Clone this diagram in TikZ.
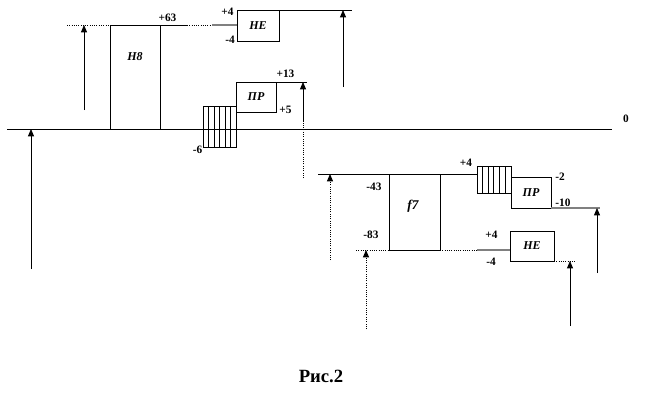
\documentclass[tikz,border=0pt]{standalone}
\usepackage{fontspec}
\setmainfont{Liberation Serif}
\usetikzlibrary{arrows.meta,calc}
\tikzset{
    tol/.style={draw, inner sep=0pt, outer sep=0pt, font=\bfseries\itshape\fontsize{9}{9}\selectfont},
    hat/.style={draw, line width=0.7pt, inner sep=0pt, outer sep=0pt},
    val/.style={inner sep=0pt, font=\bfseries\fontsize{8.5}{9}\selectfont},
    lin/.style={line width=0.6pt},
    dot/.style={line width=0.7pt, densely dotted},
    gry/.style={line width=0.8pt, gray},
    arr/.style={line width=0.6pt, -{Triangle[width=4.5pt,length=5.5pt]}},
    dotarr/.style={line width=0.7pt, densely dotted, -{Triangle[width=4.5pt,length=5.5pt]}}
}
\begin{document}
\begin{tikzpicture}[x=0.75pt, y=-0.75pt]
    \useasboundingbox (0, 0) rectangle (660, 400);
    % zero line
    \coordinate (z1) at (7, 129);
    \coordinate (z2) at (612, 129);
    \draw [lin] (z1) -- (z2);
    \node (zero) at (626, 119) [val] {0};
    % upper part
    \node (h8) at (135, 77) [tol, minimum width=37.5pt, minimum height=78pt] {};
    \node (h8t) at (135, 57) [val, font=\bfseries\itshape\fontsize{9}{9}\selectfont] {Н8};
    \node (he1) at (258, 25.5) [tol, minimum width=31.5pt, minimum height=23.25pt] {НЕ};
    \node (pr1) at (256, 97) [tol, minimum width=30pt, minimum height=22.5pt] {ПР};
    \node (ha1) at (219.5, 126.5) [hat, minimum width=24.75pt, minimum height=30.75pt] {};
    \foreach \i in {1,...,5}
        \draw [lin] ($(ha1.north west)+(\i*5.5,0)$) -- ($(ha1.south west)+(\i*5.5,0)$);
    \coordinate (a1) at (67, 25);
    \coordinate (a1m) at (187, 25);
    \coordinate (a1n) at (212, 25);
    \coordinate (a2) at (352, 10);
    \coordinate (a3) at (307, 82);
    \draw [dot] (a1) -- (h8.north west);
    \draw [lin] (h8.north west) -- (a1m);
    \draw [dot] (a1m) -- (a1n);
    \draw [gry] (a1n) -- (he1.west |- a1n);
    \draw [lin] (he1.north east) -- (a2);
    \draw [lin] (pr1.north east) -- (a3);
    \coordinate (b1) at (84, 110);
    \coordinate (b1e) at (84, 25);
    \coordinate (b2) at (343, 87);
    \coordinate (b2e) at (343, 10);
    \coordinate (b3) at (303, 178);
    \coordinate (b3m) at (303, 122);
    \coordinate (b3e) at (303, 82);
    \coordinate (b4) at (31, 269);
    \coordinate (b4e) at (31, 129);
    \draw [arr] (b1) -- (b1e);
    \draw [arr] (b2) -- (b2e);
    \draw [dot] (b3) -- (b3m);
    \draw [arr] (b3m) -- (b3e);
    \draw [arr] (b4) -- (b4e);
    \node (v1) at (167.5, 17.5) [val] {+63};
    \node (v2) at (227.5, 12) [val] {+4};
    \node (v3) at (230, 40) [val] {-4};
    \node (v4) at (285.5, 74) [val] {+13};
    \node (v5) at (285.5, 110) [val] {+5};
    \node (v6) at (197.5, 150) [val] {-6};
    % lower part
    \node (f7) at (414.5, 212) [tol, minimum width=38.25pt, minimum height=57pt] {};
    \node (f7t) at (413, 206) [val, font=\bfseries\itshape\fontsize{10}{10}\selectfont] {f7};
    \node (pr2) at (531, 192.5) [tol, minimum width=30pt, minimum height=23.25pt] {ПР};
    \node (he2) at (532, 246) [tol, minimum width=33pt, minimum height=22.5pt] {НЕ};
    \node (ha2) at (494, 179.5) [hat, minimum width=25.5pt, minimum height=20.25pt] {};
    \foreach \i in {1,...,5}
        \draw [lin] ($(ha2.north west)+(\i*5.6,0)$) -- ($(ha2.south west)+(\i*5.6,0)$);
    \coordinate (c1) at (318, 174);
    \coordinate (c2) at (356, 250);
    \coordinate (c2m) at (477, 250);
    \coordinate (c3) at (600, 208);
    \coordinate (c4) at (575, 261);
    \draw [lin] (c1) -- (ha2.west |- c1);
    \draw [dot] (c2) -- (f7.south west);
    \draw [dot] (f7.south east) -- (c2m);
    \draw [gry] (c2m) -- (he2.west |- c2m);
    \draw [gry] (pr2.south east) -- (c3);
    \draw [dot] (he2.south east) -- (c4);
    \coordinate (d1) at (330, 260);
    \coordinate (d1e) at (330, 174);
    \coordinate (d2) at (366, 329);
    \coordinate (d2e) at (366, 250);
    \coordinate (d3) at (597, 273);
    \coordinate (d3e) at (597, 208);
    \coordinate (d4) at (570, 326);
    \coordinate (d4e) at (570, 261);
    \draw [dotarr] (d1) -- (d1e);
    \draw [dotarr] (d2) -- (d2e);
    \draw [arr] (d3) -- (d3e);
    \draw [arr] (d4) -- (d4e);
    \node (v7) at (374, 187) [val] {-43};
    \node (v8) at (371, 235) [val] {-83};
    \node (v9) at (466, 163) [val] {+4};
    \node (v10) at (560, 177) [val] {-2};
    \node (v11) at (563, 203) [val] {-10};
    \node (v12) at (491.5, 235) [val] {+4};
    \node (v13) at (491, 262) [val] {-4};
    % caption
    \node (cap) at (321, 376) [inner sep=0pt, font=\bfseries\fontsize{14}{14}\selectfont] {Рис.2};
\end{tikzpicture}
\end{document}
